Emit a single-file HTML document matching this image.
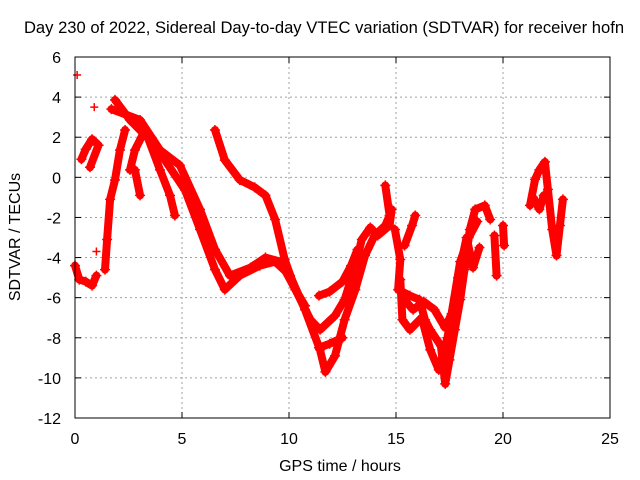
<!DOCTYPE html>
<html><head><meta charset="utf-8"><style>
body{margin:0;background:#fff}
svg{display:block;font-family:"Liberation Sans",sans-serif}
</style></head><body>
<svg id="chart" width="640" height="480" xmlns="http://www.w3.org/2000/svg">
<rect width="640" height="480" fill="#fff"/>
<text x="324" y="33" font-size="16.6" text-anchor="middle">Day 230 of 2022, Sidereal Day-to-day VTEC variation (SDTVAR) for receiver hofn</text>
<text x="340" y="471" font-size="16" text-anchor="middle">GPS time / hours</text>
<text transform="translate(20,237) rotate(-90)" font-size="16" text-anchor="middle">SDTVAR / TECUs</text>
<g id="grid"></g><g id="marks"></g>
<rect x="75" y="57" width="535" height="361" fill="none" stroke="#000" stroke-width="1"/>
</svg>
<script>
const xTicks=[0,5,10,15,20,25];
const yTicks=[6,4,2,0,-2,-4,-6,-8,-10,-12];
const trackA=[[1.87,3.86],[2.57,2.86],[3.5,1.86],[4.2,0.86],[5.14,-0.63],[5.84,-2.6],[6.54,-4.6],[7.0,-5.6],[7.7,-4.9],[8.64,-4.4],[9.35,-4.2],[10.05,-4.9],[10.75,-6.6],[11.45,-8.6],[11.7,-9.7],[12.15,-8.9],[12.6,-7.1],[13.1,-5.6],[13.55,-3.9],[14.0,-2.9],[14.5,-2.4],[14.7,-1.9],[14.5,-0.4]];
const trackB=[[1.7,3.4],[3.04,2.86],[3.97,1.36],[4.9,0.6],[5.84,-1.6],[6.54,-3.6],[7.24,-4.9],[8.2,-4.5],[8.9,-4.0],[9.6,-4.2],[10.3,-5.6],[11.0,-7.1],[11.45,-7.6],[12.15,-6.9],[12.6,-6.1],[13.1,-4.4],[13.4,-3.1],[13.8,-2.5],[14.15,-2.9],[14.7,-2.4],[14.8,-1.6]];
const trackC=[[2.57,0.37],[2.8,1.36],[3.27,2.36],[3.97,0.37],[4.44,-0.9],[4.67,-1.9]];
const trackD=[[6.54,2.36],[7.0,0.86],[7.7,-0.13],[8.4,-0.5],[8.9,-0.9],[9.35,-2.1],[9.8,-4.1],[10.3,-5.6],[10.75,-6.4]];
const trackD2=[[11.4,-5.9],[11.9,-5.7],[12.5,-5.2],[12.9,-4.4],[13.2,-3.6]];
const trackD3=[[11.4,-8.5],[11.9,-8.3],[12.5,-8.0]];
const trackE=[[1.4,-4.6],[1.5,-3.1],[1.64,-1.1],[1.87,-0.13],[2.1,1.36],[2.34,2.36]];
const trackE2=[[2.8,0.37],[3.04,-0.9]];
const trackL1=[[0.0,-4.4],[0.2,-5.1],[0.5,-5.2],[0.8,-5.4],[1.0,-4.9]];
const trackL2=[[0.3,0.9],[0.5,1.4],[0.8,1.9],[1.1,1.6],[0.7,0.5]];
const trackF=[[14.95,-2.6],[15.2,-4.1],[15.1,-5.6],[15.65,-5.9],[16.1,-6.1],[16.35,-7.1],[16.6,-7.6],[17.1,-8.4],[17.3,-10.3],[17.5,-9.1],[17.75,-7.6],[18.0,-6.1],[18.2,-4.6],[18.45,-2.6],[18.7,-1.6],[19.15,-1.4],[19.4,-2.1]];
const trackF2=[[15.2,-5.1],[15.3,-7.1],[15.65,-7.6],[16.2,-7.0],[16.6,-8.6],[17.0,-9.6],[17.4,-8.0],[17.9,-5.0],[18.3,-3.0],[18.6,-4.5],[18.9,-3.5]];
const trackF3=[[15.4,-3.4],[15.75,-2.4],[15.9,-1.9]];
const trackF4=[[19.6,-2.9],[19.7,-4.9]];
const trackF5=[[20.0,-2.4],[20.05,-3.4]];
const trackF6=[[15.3,-6.0],[15.8,-6.6],[16.3,-6.2],[16.8,-6.6],[17.3,-7.5],[17.6,-6.8],[18.0,-4.2],[18.4,-3.0],[18.8,-2.2]];
const trackG=[[21.26,-1.4],[21.5,-0.1],[21.7,0.37],[21.96,0.77],[22.1,-0.6],[22.3,-2.6],[22.5,-3.9],[22.66,-2.4],[22.8,-1.1]];
const trackG2=[[21.4,-1.0],[21.7,-1.6],[21.9,-0.9]];
const singles=[[0.1,5.1],[0.9,3.5],[1.0,-3.7]];
const series=[trackA,trackB,trackC,trackD,trackD2,trackD3,trackE,trackE2,trackL1,trackL2,trackF,trackF2,trackF3,trackF4,trackF5,trackF6,trackG,trackG2];

const X0=75,X1=610,Y0=57,Y1=418;
const sx=t=>X0+(t-0)/(25-0)*(X1-X0);
const sy=v=>Y0+(6-v)/(6-(-12))*(Y1-Y0);
const NS='http://www.w3.org/2000/svg';
const grid=document.getElementById('grid'),marks=document.getElementById('marks');
function mk(tag,attrs,parent){const e=document.createElementNS(NS,tag);for(const k in attrs)e.setAttribute(k,attrs[k]);parent.appendChild(e);return e;}
xTicks.forEach(t=>{const x=sx(t);
 if(t>0&&t<25){const g=mk('line',{x1:x,x2:x,y1:Y0,y2:Y1,stroke:'#a0a0a0','stroke-dasharray':'2,3'},grid);
 
 }
 mk('line',{x1:x,x2:x,y1:Y1,y2:Y1-6,stroke:'#000'},grid);
 mk('line',{x1:x,x2:x,y1:Y0,y2:Y0+6,stroke:'#000'},grid);
 const l=mk('text',{x:x,y:444,'font-size':16,'text-anchor':'middle'},grid);l.textContent=t;
 
 });
yTicks.forEach(v=>{const y=sy(v);
 if(v<6&&v>-12){const g=mk('line',{x1:X0,x2:X1,y1:y,y2:y,stroke:'#a0a0a0','stroke-dasharray':'2,3'},grid);
 
 }
 mk('line',{x1:X0,x2:X0+6,y1:y,y2:y,stroke:'#000'},grid);
 mk('line',{x1:X1,x2:X1-6,y1:y,y2:y,stroke:'#000'},grid);
 const l=mk('text',{x:61,y:y+6,'font-size':16,'text-anchor':'end'},grid);l.textContent=v;
 
 });
series.forEach((s,i)=>{
 const d=s.map((p,j)=>(j?'L':'M')+sx(p[0]).toFixed(1)+','+sy(p[1]).toFixed(1)).join('');
 const p=mk('path',{d:d,fill:'none',stroke:'#ff0000','stroke-width':8,'stroke-linejoin':'round','stroke-linecap':'round'},marks);
 
 
 s.forEach(pt=>{const x=sx(pt[0]),y=sy(pt[1]);
  const m=mk('path',{d:`M${x-5},${y}h10M${x},${y-5}v10`,stroke:'#ff0000','stroke-width':1.5},marks);
  
  });
});
singles.forEach(pt=>{const x=sx(pt[0]),y=sy(pt[1]);
 const m=mk('path',{d:`M${x-4},${y}h8M${x},${y-4}v8`,stroke:'#ff0000','stroke-width':1.5},marks);
 
 });
</script>
</body></html>
